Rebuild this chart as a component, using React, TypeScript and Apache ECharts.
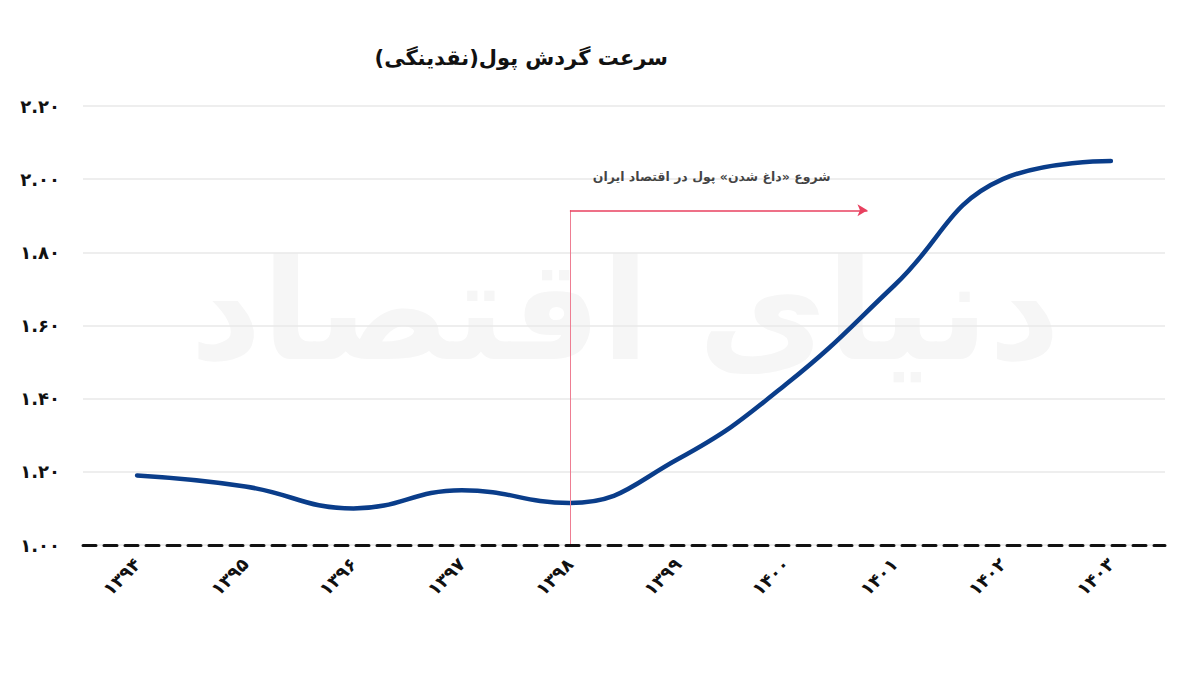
import React, { useEffect, useRef } from "react";
import * as echarts from "echarts";

const titleText = "سرعت گردش پول(نقدینگی)";
const annotationText = "شروع «داغ شدن» پول در اقتصاد ایران";
const watermarkText = "دنیای اقتصاد";

const years = ["1394", "1395", "1396", "1397", "1398", "1399", "1400", "1401", "1402", "1403"];
const velocity = [1.19, 1.16, 1.1, 1.15, 1.115, 1.235, 1.44, 1.71, 2.0, 2.05];

const yMin = 1.0;
const yMax = 2.2;
const yStep = 0.2;

// annotation (index on the category axis, value on the y axis)
const arrowStartIndex = 4; // 1398
const arrowEndIndex = 6.75;
const arrowBottom = 1.0;
const arrowTop = 1.915;
const annotationPos = [5.31, 2.008];

const faDigits = ["۰", "۱", "۲", "۳", "۴", "۵", "۶", "۷", "۸", "۹"];
const toFa = (s: string) => s.replace(/[0-9]/g, (d) => faDigits[+d]);

const FONT = "DejaVu Sans";

export default function App() {
  const ref = useRef<HTMLDivElement>(null);

  useEffect(() => {
    if (!ref.current) return;
    const chart = echarts.init(ref.current, null, { renderer: "svg" });
    chart.setOption({
      animation: false,
      backgroundColor: "#ffffff",
      title: {
        text: titleText,
        right: 527,
        top: 42,
        textStyle: { fontFamily: FONT, fontSize: 21, fontWeight: "bold", color: "#111" },
      },
      graphic: [
        {
          type: "text",
          left: 190,
          top: 240,
          z: 0,
          silent: true,
          style: {
            text: watermarkText,
            fontFamily: FONT,
            fontSize: 140,
            fontWeight: "bold",
            fill: "#f6f6f6",
          },
        },
      ],
      grid: { left: 83, right: 35, top: 106, bottom: 130, containLabel: false },
      xAxis: [
        {
          type: "category",
          data: years,
          boundaryGap: true,
          axisLine: { show: true, lineStyle: { color: "#111", width: 3, type: [13, 8] } },
          axisTick: { show: false },
          axisLabel: {
            rotate: 45,
            margin: 16,
            fontFamily: FONT,
            fontSize: 18,
            fontWeight: "bold",
            color: "#111",
            formatter: (v: string) => toFa(v),
          },
          splitLine: { show: false },
          z: 5,
        },
        {
          type: "value",
          min: -0.5,
          max: 9.5,
          show: false,
        },
      ],
      yAxis: {
        type: "value",
        min: yMin,
        max: yMax,
        interval: yStep,
        axisLine: { show: false },
        axisTick: { show: false },
        axisLabel: {
          margin: 23,
          fontFamily: FONT,
          fontSize: 18,
          fontWeight: "bold",
          color: "#111",
          formatter: (v: number) => toFa(v.toFixed(2)),
        },
        splitLine: { show: true, lineStyle: { color: "#e8e8e8", width: 1.5 } },
      },
      series: [
        {
          name: "velocity",
          type: "line",
          data: velocity,
          smooth: 0.45,
          symbol: "none",
          lineStyle: { color: "#0a3d8a", width: 4.5, cap: "round" },
          z: 4,
        },
        {
          name: "annotation",
          type: "scatter",
          xAxisIndex: 1,
          data: [annotationPos],
          symbolSize: 0,
          z: 3,
          label: {
            show: true,
            position: "inside",
            formatter: annotationText,
            fontFamily: FONT,
            fontSize: 12.5,
            fontWeight: "bold",
            color: "#111",
          },
          markLine: {
            silent: true,
            animation: false,
            label: { show: false },
            data: [
              [
                { coord: [arrowStartIndex, arrowBottom], symbol: "none", lineStyle: { color: "#ee7d92", width: 1, type: "solid" } },
                { coord: [arrowStartIndex, arrowTop], symbol: "none" },
              ],
              [
                { coord: [arrowStartIndex, arrowTop], symbol: "none", lineStyle: { color: "#e8405f", width: 1.5, type: "solid" } },
                { coord: [arrowEndIndex, arrowTop], symbol: "arrow", symbolSize: [9, 10] },
              ],
            ],
          },
        },
      ],
    });
    return () => chart.dispose();
  }, []);

  return <div ref={ref} style={{ position: "fixed", left: 0, top: 0, width: 1200, height: 675 }} />;
}
